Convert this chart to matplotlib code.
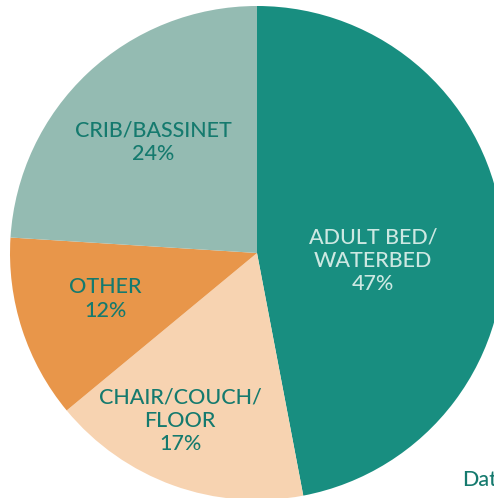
import matplotlib.pyplot as plt

# === Données ===
categories = ["ADULT BED/\nWATERBED", "CHAIR/COUCH/\nFLOOR", "OTHER", "CRIB/BASSINET"]
parts = [47, 17, 12, 24]
couleurs = ["#188e80", "#f7d3b1", "#e8964a", "#94bbb2"]
couleurs_texte = ["#cde8e2", "#157a6e", "#157a6e", "#157a6e"]

# positions des étiquettes (pixels, origine en bas à gauche)
pos_labels = [(373, 237), (180, 77), (105, 199), (153, 356)]

W, H = 494, 498
fig = plt.figure(figsize=(W / 100, H / 100), dpi=100)
ax = fig.add_axes([0, 0, 1, 1])

centre = (257, H - 253)
rayon = 247

ax.pie(parts, colors=couleurs, startangle=90, counterclock=False,
       center=centre, radius=rayon, frame=True,
       wedgeprops={'linewidth': 0})
ax.set_xlim(0, W)
ax.set_ylim(0, H)
ax.set_aspect('equal')
ax.axis('off')

for cat, p, (x, y), c in zip(categories, parts, pos_labels, couleurs_texte):
    ax.text(x, y, f"{cat}\n{p}%", ha='center', va='center', color=c,
            fontsize=15.5, family='Lato', fontweight='medium', linespacing=1.2)

ax.text(462, 18, "Data", ha='left', va='center', color="#157a6e",
        fontsize=15.5, family='Lato', fontweight='medium')

plt.savefig("out.png", dpi=100)
